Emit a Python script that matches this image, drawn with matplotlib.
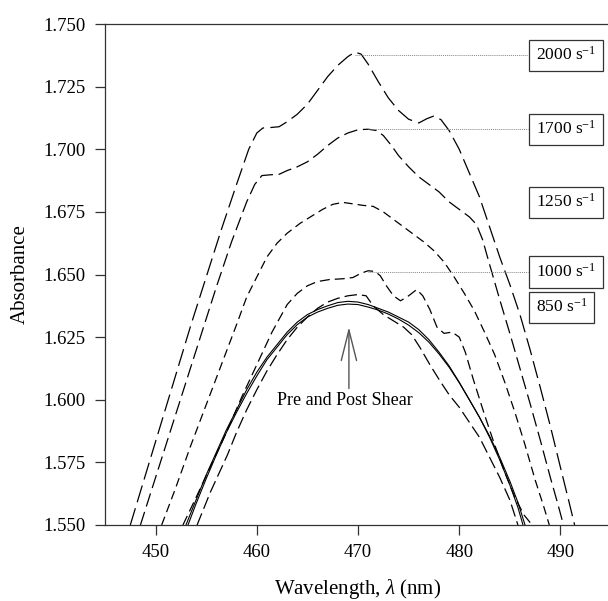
##############################################
# Absorbance spectra under shear
##############################################
import numpy as np
import matplotlib
matplotlib.use("Agg")
import matplotlib.pyplot as plt
from matplotlib.ticker import FormatStrFormatter

##############################################
# Data (wavelength in nm, absorbance)
##############################################
wl_2000 = [447.5, 449.0, 450.5, 452.0, 453.5, 455.0, 456.5, 458.0, 459.2, 460.0,
           460.6, 461.4, 462.2, 463.0, 464.0, 465.0, 466.0, 467.0, 468.0, 469.0,
           469.7, 470.3, 471.0, 472.0, 473.0, 474.0, 475.0, 476.0, 476.8, 477.5,
           478.2, 479.0, 480.0, 481.0, 482.0, 483.0, 484.0, 485.0, 486.0, 487.0,
           488.0, 489.0, 490.0, 490.8, 491.4]
abs_2000 = [1.550, 1.570, 1.590, 1.610, 1.630, 1.649, 1.668, 1.686, 1.700, 1.7065,
            1.7085, 1.7087, 1.7090, 1.7110, 1.7140, 1.7180, 1.7235, 1.7290, 1.7335, 1.7370,
            1.7388, 1.7380, 1.7340, 1.7270, 1.7205, 1.7155, 1.7120, 1.7105, 1.7122, 1.7133,
            1.7118, 1.7075, 1.7000, 1.6905, 1.6810, 1.6690, 1.6570, 1.6460, 1.6340, 1.6200,
            1.6050, 1.5895, 1.5730, 1.5600, 1.5500]

wl_1700 = [448.5, 450.0, 451.5, 453.0, 454.5, 456.0, 457.5, 459.0, 459.8, 460.5,
           461.3, 462.2, 463.0, 464.0, 465.0, 466.0, 467.0, 468.0, 469.0, 470.0,
           471.0, 471.8, 472.5, 473.3, 474.0, 475.0, 476.0, 477.0, 478.0, 479.0,
           480.0, 481.0, 481.7, 482.3, 483.0, 484.0, 485.0, 486.0, 487.0, 488.0,
           489.0, 489.7, 490.3]
abs_1700 = [1.550, 1.569, 1.588, 1.607, 1.626, 1.645, 1.663, 1.679, 1.686, 1.6895,
            1.6898, 1.6900, 1.6915, 1.6930, 1.6950, 1.6980, 1.7015, 1.7045, 1.7065, 1.7078,
            1.7080, 1.7075, 1.7055, 1.7015, 1.6975, 1.6930, 1.6890, 1.6860, 1.6830, 1.6790,
            1.6760, 1.6730, 1.6700, 1.6640, 1.6540, 1.6400, 1.6265, 1.6125, 1.5985, 1.5840,
            1.5690, 1.5590, 1.5500]

wl_1250 = [450.6, 452.0, 453.5, 455.0, 456.5, 458.0, 459.0, 460.0, 461.0, 462.0,
           463.0, 464.3, 465.5, 466.5, 467.5, 468.5, 469.5, 470.5, 471.5, 472.5,
           473.5, 474.5, 475.5, 476.5, 477.5, 478.5, 479.5, 480.5, 481.5, 482.5,
           483.5, 484.5, 485.5, 486.5, 487.5, 488.3, 488.9]
abs_1250 = [1.550, 1.565, 1.582, 1.598, 1.614, 1.630, 1.641, 1.649, 1.657, 1.6625,
            1.6665, 1.6705, 1.6735, 1.6760, 1.6780, 1.6788, 1.6782, 1.6776, 1.6772, 1.6750,
            1.6720, 1.6690, 1.6660, 1.6630, 1.6595, 1.6550, 1.6490, 1.6425, 1.6355, 1.6270,
            1.6180, 1.6070, 1.5950, 1.5820, 1.5680, 1.5580, 1.5500]

wl_1000 = [452.7, 454.0, 455.5, 457.0, 458.5, 460.0, 461.5, 463.0, 464.0, 465.0,
           466.0, 467.2, 468.5, 469.5, 470.3, 471.0, 471.7, 472.2, 472.8, 473.5,
           474.2, 475.0, 475.8, 476.4, 477.1, 477.8, 478.5, 479.3, 480.0, 480.6,
           481.4, 482.5, 483.5, 484.5, 485.5, 486.4, 487.2]
abs_1000 = [1.550, 1.561, 1.574, 1.587, 1.601, 1.614, 1.627, 1.638, 1.6425, 1.6455,
            1.6472, 1.6480, 1.6483, 1.6488, 1.6505, 1.6515, 1.6512, 1.6495, 1.6455, 1.6415,
            1.6395, 1.6415, 1.6440, 1.6415, 1.6360, 1.6290, 1.6265, 1.6270, 1.6250, 1.6190,
            1.6080, 1.5940, 1.5820, 1.5710, 1.5610, 1.5540, 1.5500]

wl_850 = [454.1, 455.4, 457.1, 458.0, 459.0, 460.0, 461.0, 462.0, 463.0, 464.0,
          465.0, 466.0, 467.0, 468.0, 469.0, 470.0, 470.8, 471.5, 472.5, 473.5,
          474.5, 475.3, 476.1, 477.1, 478.1, 479.0, 480.0, 481.0, 482.0, 483.0,
          484.0, 485.0, 485.8]
abs_850 = [1.550, 1.563, 1.578, 1.587, 1.596, 1.604, 1.6115, 1.6180, 1.6240, 1.6290,
           1.6330, 1.6365, 1.6390, 1.6405, 1.6415, 1.6420, 1.6415, 1.6375, 1.6340, 1.6315,
           1.6290, 1.6260, 1.6210, 1.6140, 1.6075, 1.6020, 1.5970, 1.5910, 1.5850, 1.5770,
           1.5690, 1.5600, 1.5500]

wl_pre = [453.0, 454.0, 455.0, 456.0, 457.0, 458.0, 459.0, 460.0, 461.0, 462.0,
          463.0, 464.0, 465.0, 466.0, 467.0, 468.0, 469.0, 470.0, 471.0, 472.0,
          473.0, 474.0, 475.0, 476.0, 477.0, 478.0, 479.0, 480.0, 481.0, 482.0,
          483.0, 484.0, 485.0, 485.8, 486.3]
abs_pre = [1.550, 1.560, 1.570, 1.579, 1.588, 1.596, 1.604, 1.611, 1.617, 1.622,
           1.627, 1.631, 1.634, 1.636, 1.6375, 1.6388, 1.6393, 1.6390, 1.6380, 1.6365,
           1.6350, 1.6330, 1.6310, 1.6280, 1.6240, 1.6190, 1.6135, 1.6070, 1.6000, 1.5930,
           1.5850, 1.5760, 1.5660, 1.5570, 1.5500]

wl_post = [453.2, 454.0, 455.0, 456.0, 457.0, 458.0, 459.0, 460.0, 461.0, 462.0,
           463.0, 464.0, 465.0, 466.0, 467.0, 468.0, 469.0, 470.0, 471.0, 472.0,
           473.0, 474.0, 475.0, 476.0, 477.0, 478.0, 479.0, 480.0, 481.0, 482.0,
           483.0, 484.0, 485.0, 485.8, 486.5]
abs_post = [1.550, 1.5585, 1.5685, 1.578, 1.587, 1.595, 1.6025, 1.6095, 1.616, 1.621,
            1.626, 1.630, 1.633, 1.635, 1.6365, 1.6377, 1.6382, 1.6380, 1.6370, 1.6358,
            1.6342, 1.6322, 1.6298, 1.6268, 1.6230, 1.6183, 1.6130, 1.6068, 1.6000, 1.5930,
            1.5855, 1.5770, 1.5675, 1.5590, 1.5500]

rate_labels = ["2000 s$^{-1}$", "1700 s$^{-1}$", "1250 s$^{-1}$", "1000 s$^{-1}$", "850 s$^{-1}$"]
label_levels = [1.7376, 1.7080, 1.6789, 1.6510, 1.6370]
has_leader = [True, True, False, True, False]

x_ticks = [450, 460, 470, 480, 490]
y_ticks = [1.550, 1.575, 1.600, 1.625, 1.650, 1.675, 1.700, 1.725, 1.750]

##############################################
# Style
##############################################
plt.rcParams["font.family"] = ["Liberation Serif", "DejaVu Serif"]
plt.rcParams["mathtext.fontset"] = "custom"
plt.rcParams["mathtext.rm"] = "Liberation Serif"
plt.rcParams["mathtext.it"] = "Liberation Serif:italic"

dash_styles = [(0, (14, 5)), (0, (11, 4.5)), (0, (7, 4)), (0, (8, 4)), (0, (10, 4))]

##############################################
# Plot
##############################################
fig = plt.figure(figsize=(6.08, 6.01), dpi=100)
ax = fig.add_axes([0.1727, 0.1265, 0.8323, 0.8335])

spectra = [(wl_2000, abs_2000), (wl_1700, abs_1700), (wl_1250, abs_1250),
           (wl_1000, abs_1000), (wl_850, abs_850)]
for (wl, ab), ls in zip(spectra, dash_styles):
    ax.plot(wl, ab, color="black", lw=0.9, linestyle=ls)

ax.plot(wl_pre, abs_pre, color="black", lw=0.8)
ax.plot(wl_post, abs_post, color="black", lw=0.8)

# rate labels with dotted leaders from each peak
box_x = 487.55
for (wl, ab), text, level, lead in zip(spectra, rate_labels, label_levels, has_leader):
    if lead:
        x_peak = wl[int(np.argmax(ab))]
        ax.plot([x_peak, box_x - 0.75], [level, level], color="#888888",
                lw=0.7, linestyle=(0, (1, 1)))
    ax.text(box_x, level, text, fontsize=12.5, ha="left", va="center",
            bbox=dict(boxstyle="square,pad=0.38", fc="white", ec="#333333", lw=0.9))

ax.annotate("", xy=(469.1, 1.629), xytext=(469.1, 1.6045),
            arrowprops=dict(arrowstyle="->,head_length=2.2,head_width=0.55",
                            color="#555555", lw=1.0, mutation_scale=10,
                            shrinkA=0, shrinkB=0))
ax.text(468.7, 1.5995, "Pre and Post Shear", fontsize=13, ha="center", va="center")

ax.set_xlim(445, 495)
ax.set_ylim(1.55, 1.75)
ax.set_xticks(x_ticks)
ax.set_yticks(y_ticks)
ax.yaxis.set_major_formatter(FormatStrFormatter("%.3f"))
ax.tick_params(direction="out", length=7, width=0.9, labelsize=13.5, pad=7, color="#333333")

for side in ["left", "top", "bottom"]:
    ax.spines[side].set_color("#333333")
    ax.spines[side].set_linewidth(0.9)
ax.spines["right"].set_visible(False)

ax.set_xlabel("Wavelength, $\\lambda$ (nm)", fontsize=15, labelpad=11)
ax.set_ylabel("Absorbance", fontsize=15, labelpad=10)

fig.savefig("out.png", dpi=100)
